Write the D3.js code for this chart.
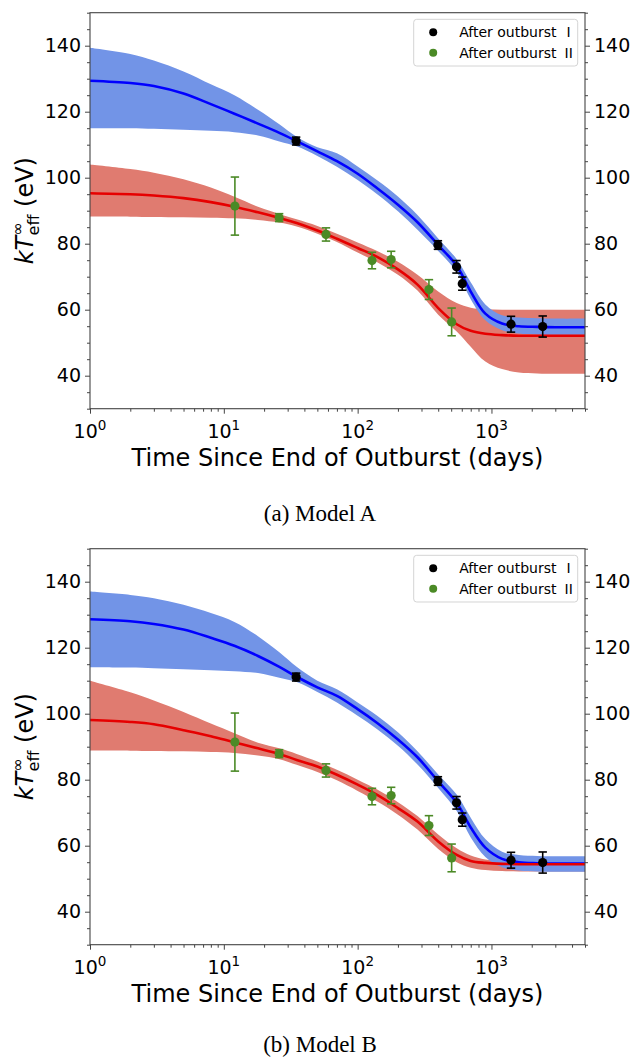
<!DOCTYPE html>
<html>
<head>
<meta charset="utf-8">
<script src="https://cdn.jsdelivr.net/npm/d3@7"></script>
<style>
  body { margin: 0; background: #fff; }
  svg { display: block; }
  text { font-family: "DejaVu Sans", sans-serif; fill: #000; }
  .caption { font-family: "Liberation Serif", "Times New Roman", serif; }
</style>
</head>
<body>
<div id="chart"></div>
<script>
// time grid (days) for the model curves
const tGrid = [1, 2, 3, 5, 8, 12, 18, 26, 35, 50, 70, 100, 140, 200, 280, 400, 550, 700, 900, 1200, 1600, 2200, 3000, 5000];

// Model A curves (eV)
const aBlueLine = [129.4, 128.7, 127.8, 125.5, 122.3, 119.4, 116.4, 113.6, 111.1, 108.0, 105.0, 101.2, 96.8, 91.8, 86.5, 79.6, 73.3, 65.5, 58.8, 55.8, 55.0, 54.8, 54.7, 54.7];
const aBlueHi   = [139.4, 137.5, 135.5, 132.2, 128.3, 125.0, 120.6, 116.2, 112.4, 109.2, 107.4, 103.4, 99.2, 94.3, 88.7, 81.6, 75.3, 68.3, 61.6, 58.3, 57.6, 57.4, 57.3, 57.3];
const aBlueLo   = [115.0, 115.0, 114.8, 114.5, 114.2, 113.8, 112.8, 111.0, 109.5, 106.6, 103.3, 99.3, 95.0, 89.8, 84.2, 77.8, 71.4, 63.2, 56.8, 53.8, 52.8, 52.5, 52.4, 52.4];
const aRedLine  = [95.3, 95.0, 94.6, 93.8, 92.6, 91.2, 89.5, 87.8, 86.3, 84.0, 81.5, 78.7, 76.0, 72.2, 67.6, 60.5, 55.6, 53.6, 52.7, 52.3, 52.1, 52.1, 52.1, 52.1];
const aRedHi    = [104.0, 102.6, 101.5, 99.5, 97.0, 94.2, 91.2, 89.0, 87.4, 85.4, 83.0, 80.4, 77.8, 74.5, 70.6, 65.5, 62.0, 60.6, 60.1, 60.0, 60.0, 60.0, 60.0, 60.0];
const aRedLo    = [88.2, 88.2, 88.1, 88.0, 87.9, 87.7, 87.2, 86.4, 85.2, 83.0, 80.5, 77.3, 74.4, 70.6, 65.8, 58.5, 53.4, 48.8, 44.3, 42.0, 41.0, 40.7, 40.6, 40.6];

// Model B curves (eV)
const bBlueLine = [128.6, 128.0, 127.2, 125.5, 123.0, 120.6, 117.5, 114.2, 111.2, 108.0, 105.4, 101.4, 97.2, 92.2, 86.8, 79.5, 73.0, 65.5, 59.4, 56.0, 55.0, 54.7, 54.6, 54.6];
const bBlueHi   = [137.0, 136.0, 135.0, 133.0, 130.5, 127.8, 123.5, 118.6, 114.2, 110.0, 107.4, 103.4, 99.4, 94.4, 88.6, 81.6, 75.5, 68.5, 62.0, 58.2, 57.2, 56.9, 56.8, 56.8];
const bBlueLo   = [114.1, 114.0, 113.8, 113.5, 113.2, 112.9, 112.3, 110.9, 109.6, 106.6, 103.4, 99.4, 95.3, 90.3, 84.6, 77.5, 70.5, 62.5, 56.6, 53.5, 52.5, 52.2, 52.1, 52.1];
const bRedLine  = [98.1, 97.5, 96.8, 95.0, 93.2, 91.3, 89.5, 87.8, 86.0, 84.0, 81.5, 78.5, 75.4, 71.4, 67.3, 61.3, 57.2, 55.4, 54.8, 54.5, 54.4, 54.4, 54.4, 54.4];
const bRedHi    = [110.0, 106.5, 104.0, 100.5, 97.0, 94.1, 91.2, 89.5, 87.8, 85.5, 83.0, 80.0, 77.0, 73.2, 69.0, 63.4, 59.2, 57.0, 55.8, 55.3, 55.1, 55.1, 55.1, 55.1];
const bRedLo    = [88.8, 88.8, 88.7, 88.6, 88.4, 88.1, 87.3, 86.2, 84.5, 82.3, 79.8, 76.6, 73.4, 69.4, 64.9, 59.0, 55.0, 53.3, 52.6, 52.3, 52.2, 52.2, 52.2, 52.2];

// observations after outburst I (black) and II (green)
const obs1T   = [34.7, 398, 548, 605, 1400, 2415];
const obs1Y   = [111.1, 79.6, 73.0, 67.9, 55.6, 54.9];
const obs1Err = [1.2, 1.3, 1.9, 2.0, 2.4, 3.2];
const obs2T   = [12.1, 25.9, 58, 128, 178, 341, 504];
const obs2Y   = [91.4, 87.9, 82.8, 74.9, 75.2, 66.1, 56.3];
const obs2Err = [8.8, 1.2, 2.0, 2.5, 2.5, 3.0, 4.2];

const yMajor = [40, 60, 80, 100, 120, 140];
const xDecades = [0, 1, 2, 3];
const legendLabels = [["After outburst", "I"], ["After outburst", "II"]];
const captions = ["(a) Model A", "(b) Model B"];

const W = 637, H = 1059;
const svg = d3.select("#chart").append("svg").attr("width", W).attr("height", H);

const colors = {
  blueBand: "#7294e7", blueLine: "#0000ff",
  redBand: "#e07b70", redLine: "#e60000",
  obs1: "#000000", obs2: "#4b8a26", axis: "#444"
};

function drawPanel(offsetY, curves, caption, captionY) {
  const top = 12.7 + offsetY, bottom = 408.7 + offsetY, left = 90, right = 585;
  const g = svg.append("g");

  const x = d3.scaleLog().domain([1, 5000]).range([left, right]);
  const y = d3.scaleLinear().domain([30, 150]).range([bottom, top]);
  const smooth = d3.curveCatmullRom.alpha(0.5);

  const area = (lo, hi) => d3.area()
    .x((d, i) => x(tGrid[i])).y0((d, i) => y(lo[i])).y1((d, i) => y(hi[i]))
    .curve(smooth)(tGrid);
  const line = vals => d3.line()
    .x((d, i) => x(tGrid[i])).y((d, i) => y(vals[i]))
    .curve(smooth)(tGrid);

  const clipId = "clip" + offsetY;
  g.append("clipPath").attr("id", clipId).append("rect")
    .attr("x", left).attr("y", top).attr("width", right - left).attr("height", bottom - top);
  const plot = g.append("g").attr("clip-path", `url(#${clipId})`);

  plot.append("path").attr("d", area(curves.redLo, curves.redHi)).attr("fill", colors.redBand);
  plot.append("path").attr("d", area(curves.blueLo, curves.blueHi)).attr("fill", colors.blueBand);
  plot.append("path").attr("d", line(curves.blueLine)).attr("fill", "none")
    .attr("stroke", colors.blueLine).attr("stroke-width", 2.6);
  plot.append("path").attr("d", line(curves.redLine)).attr("fill", "none")
    .attr("stroke", colors.redLine).attr("stroke-width", 2.6);

  // error bars + points
  const drawObs = (ts, ys, errs, col) => {
    ts.forEach((t, i) => {
      const cx = x(t), y0 = y(ys[i] - errs[i]), y1 = y(ys[i] + errs[i]);
      g.append("line").attr("x1", cx).attr("x2", cx).attr("y1", y0).attr("y2", y1)
        .attr("stroke", col).attr("stroke-width", 1.6);
      [y0, y1].forEach(yy => g.append("line")
        .attr("x1", cx - 4.2).attr("x2", cx + 4.2).attr("y1", yy).attr("y2", yy)
        .attr("stroke", col).attr("stroke-width", 1.6));
      g.append("circle").attr("cx", cx).attr("cy", y(ys[i])).attr("r", 4.6).attr("fill", col);
    });
  };
  drawObs(obs2T, obs2Y, obs2Err, colors.obs2);
  drawObs(obs1T, obs1Y, obs1Err, colors.obs1);

  // axes
  const yMinor = d3.range(30, 151, 5).filter(v => !yMajor.includes(v));
  const xMinor = [];
  xDecades.forEach(p => d3.range(2, 10).forEach(m => { const v = m * Math.pow(10, p); if (v <= 5000) xMinor.push(v); }));

  const styleAxis = sel => {
    sel.select(".domain").remove();
    sel.selectAll("line").attr("stroke", colors.axis);
    sel.selectAll("text").style("font-size", "19px").attr("fill", "#000");
  };

  g.append("g").attr("transform", `translate(${left},0)`)
    .call(d3.axisLeft(y).tickValues(yMajor).tickSize(5).tickPadding(4)).call(styleAxis);
  g.append("g").attr("transform", `translate(${left},0)`)
    .call(d3.axisLeft(y).tickValues(yMinor).tickSize(3).tickFormat("")).call(styleAxis);
  g.append("g").attr("transform", `translate(${right},0)`)
    .call(d3.axisRight(y).tickValues(yMajor).tickSize(5).tickPadding(4)).call(styleAxis);
  g.append("g").attr("transform", `translate(${right},0)`)
    .call(d3.axisRight(y).tickValues(yMinor).tickSize(3).tickFormat("")).call(styleAxis);

  g.append("g").attr("transform", `translate(0,${bottom})`)
    .call(d3.axisBottom(x).tickValues(xDecades.map(p => Math.pow(10, p))).tickSize(5).tickFormat(""))
    .call(styleAxis);
  g.append("g").attr("transform", `translate(0,${bottom})`)
    .call(d3.axisBottom(x).tickValues(xMinor).tickSize(3).tickFormat("")).call(styleAxis);

  xDecades.forEach(p => {
    const t = g.append("text").attr("x", x(Math.pow(10, p))).attr("y", bottom + 29)
      .attr("text-anchor", "middle").style("font-size", "19px");
    t.append("tspan").text("10");
    t.append("tspan").attr("dy", -8).style("font-size", "13.5px").text(p);
  });

  // frame
  g.append("rect").attr("x", left).attr("y", top).attr("width", right - left).attr("height", bottom - top)
    .attr("fill", "none").attr("stroke", colors.axis).attr("stroke-width", 1.1);

  // axis labels
  g.append("text").attr("x", (left + right) / 2).attr("y", bottom + 57)
    .attr("text-anchor", "middle").style("font-size", "24px")
    .text("Time Since End of Outburst (days)");

  const yl = g.append("text").attr("text-anchor", "middle").style("font-size", "24px")
    .attr("transform", `translate(33,${(top + bottom) / 2}) rotate(-90)`);
  yl.append("tspan").style("font-style", "italic").text("kT");
  yl.append("tspan").attr("dy", -10).style("font-size", "16px").text("∞");
  yl.append("tspan").attr("dx", -13).attr("dy", 16).style("font-size", "16px").text("eff");
  yl.append("tspan").attr("dy", -6).text(" (eV)");

  // legend
  const lg = g.append("g").attr("transform", `translate(413.7,${19.3 + offsetY})`);
  lg.append("rect").attr("width", 164).attr("height", 46.7).attr("rx", 3)
    .attr("fill", "#fff").attr("fill-opacity", 0.8).attr("stroke", "#d4d4d4");
  legendLabels.forEach((lab, i) => {
    const yy = 13 + i * 20.5;
    lg.append("circle").attr("cx", 19.5).attr("cy", yy).attr("r", 4)
      .attr("fill", i === 0 ? colors.obs1 : colors.obs2);
    lg.append("text").attr("x", 45.5).attr("y", yy + 5).style("font-size", "14px").text(lab[0]);
    lg.append("text").attr("x", 155).attr("y", yy + 5).attr("text-anchor", "middle")
      .style("font-size", "14px").text(lab[1]);
  });

  svg.append("text").attr("class", "caption").attr("x", 320).attr("y", captionY)
    .attr("text-anchor", "middle").style("font-size", "23px").text(caption);
}

drawPanel(0, {
  blueLine: aBlueLine, blueHi: aBlueHi, blueLo: aBlueLo,
  redLine: aRedLine, redHi: aRedHi, redLo: aRedLo
}, captions[0], 521);
drawPanel(536, {
  blueLine: bBlueLine, blueHi: bBlueHi, blueLo: bBlueLo,
  redLine: bRedLine, redHi: bRedHi, redLo: bRedLo
}, captions[1], 1052);
</script>
</body>
</html>
